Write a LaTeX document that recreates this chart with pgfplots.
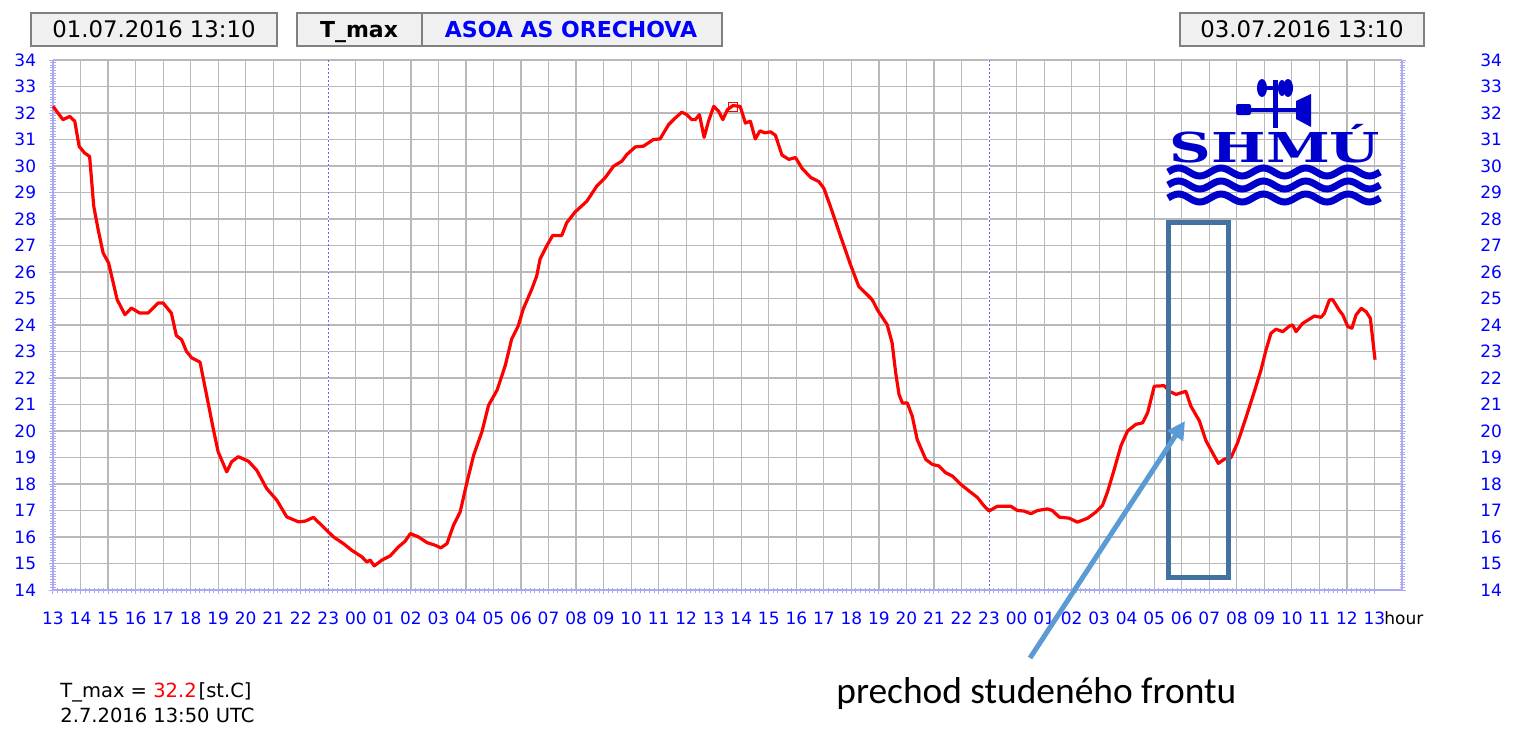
\documentclass[border=0pt]{standalone}
\usepackage{pgfplots}
\pgfplotsset{compat=1.18}
\usepackage{pgfplotstable}
\usepackage{fontspec}
\setmainfont{DejaVu Sans}
\newfontfamily\carlito{Carlito}
\newfontfamily\slab{DejaVu Serif}
\usetikzlibrary{arrows.meta}

\definecolor{lav}{RGB}{170,170,240}
\definecolor{gridgray}{RGB}{185,185,185}
\definecolor{boxfill}{RGB}{240,240,240}
\definecolor{boxline}{RGB}{128,128,128}
\definecolor{logoblue}{RGB}{0,0,204}
\definecolor{framebl}{RGB}{68,114,160}
\definecolor{arrowbl}{RGB}{91,155,213}
\definecolor{daybl}{RGB}{100,100,255}

% pixel position of the reference -> picture coordinate
\newcommand\pp[2]{({(#1)*0.5pt},{-(#2)*0.5pt})}
\newcommand\tickfont{\fontsize{8.5}{10}\selectfont}

% hours after 01.07.2016 13:00, T_max in deg C
\pgfplotstableread{
h T
0 32.25
0.36 31.75
0.61 31.87
0.79 31.69
0.95 30.74
1.15 30.49
1.33 30.36
1.48 28.48
1.64 27.6
1.82 26.72
2.02 26.34
2.33 24.96
2.61 24.39
2.85 24.64
3.15 24.45
3.45 24.45
3.82 24.83
4.0 24.83
4.3 24.45
4.48 23.6
4.67 23.45
4.85 23.0
5.04 22.76
5.34 22.6
5.58 21.35
5.82 20.09
6.0 19.21
6.31 18.46
6.49 18.84
6.73 19.03
7.10 18.86
7.40 18.52
7.76 17.83
8.13 17.39
8.49 16.76
8.92 16.57
9.16 16.6
9.46 16.74
9.82 16.38
10.19 16.0
10.55 15.75
10.85 15.5
11.22 15.25
11.4 15.06
11.52 15.13
11.67 14.91
11.95 15.13
12.25 15.29
12.55 15.63
12.79 15.84
12.98 16.13
13.28 16.0
13.58 15.79
13.88 15.69
14.09 15.59
14.31 15.75
14.55 16.45
14.79 16.95
15.04 18.08
15.28 19.09
15.58 19.97
15.82 20.97
16.13 21.54
16.43 22.48
16.66 23.47
16.9 23.97
17.08 24.6
17.39 25.35
17.57 25.85
17.69 26.48
17.93 26.98
18.15 27.38
18.48 27.38
18.66 27.86
18.96 28.26
19.39 28.67
19.75 29.24
20.05 29.55
20.36 29.99
20.66 30.18
20.84 30.43
21.15 30.72
21.45 30.75
21.81 31.0
22.05 31.02
22.36 31.56
22.6 31.81
22.84 32.03
23.02 31.94
23.2 31.75
23.33 31.75
23.48 31.94
23.65 31.08
23.81 31.69
24.0 32.25
24.18 32.06
24.33 31.75
24.5 32.13
24.7 32.28
24.96 32.25
25.15 31.62
25.33 31.69
25.51 31.02
25.68 31.33
25.85 31.25
26.06 31.29
26.24 31.16
26.48 30.41
26.73 30.25
26.97 30.32
27.21 29.91
27.52 29.57
27.82 29.41
28.0 29.16
28.24 28.47
28.61 27.34
28.97 26.27
29.27 25.45
29.52 25.2
29.76 24.95
29.94 24.58
30.3 24.01
30.48 23.32
30.61 22.19
30.73 21.38
30.85 21.06
31.03 21.06
31.21 20.56
31.39 19.68
31.7 18.93
31.94 18.74
32.18 18.68
32.42 18.43
32.67 18.3
32.97 17.99
33.27 17.74
33.58 17.49
33.82 17.17
34.0 16.98
34.3 17.16
34.79 17.16
35.03 17.0
35.27 16.98
35.52 16.88
35.76 17.0
36.12 17.06
36.3 17.0
36.55 16.75
36.91 16.71
37.21 16.56
37.58 16.71
37.88 16.94
38.12 17.19
38.3 17.69
38.55 18.56
38.79 19.44
39.03 20.0
39.33 20.25
39.58 20.31
39.76 20.69
40.0 21.69
40.36 21.71
40.55 21.5
40.79 21.38
40.97 21.44
41.15 21.5
41.33 20.94
41.64 20.38
41.88 19.63
42.18 19.06
42.33 18.78
42.55 18.94
42.79 19.0
43.03 19.56
43.33 20.5
43.64 21.5
43.88 22.31
44.06 23.06
44.24 23.69
44.42 23.84
44.67 23.75
44.91 23.96
45.03 24.0
45.15 23.75
45.39 24.06
45.82 24.34
46.06 24.29
46.18 24.44
46.36 24.94
46.48 24.96
46.73 24.54
46.85 24.38
47.03 23.94
47.18 23.88
47.33 24.38
47.52 24.63
47.7 24.5
47.85 24.25
48.02 22.69
}\tmaxdata

\begin{document}
\begin{tikzpicture}
\useasboundingbox (0,0) rectangle (758pt,-367pt);

\begin{axis}[
    at={(26.5pt,-295pt)}, anchor=south west,
    width=674.5pt, height=265pt, scale only axis,
    xmin=0, xmax=49, ymin=14, ymax=34,
    xtick={0,...,48},
    xticklabels={13,14,15,16,17,18,19,20,21,22,23,00,01,02,03,04,05,06,07,08,09,10,11,12,13,14,15,16,17,18,19,20,21,22,23,00,01,02,03,04,05,06,07,08,09,10,11,12,13},
    ytick={14,...,34},
    minor x tick num=5, minor y tick num=9,
    xtick pos=left, ytick pos=both, yticklabel pos=left,
    tick align=center,
    major tick length=3.5pt, minor tick length=2.5pt,
    tick style={draw=lav, line width=0.5pt},
    grid=major,
    major grid style={draw=gridgray, line width=0.6pt},
    axis line style={draw=none},
    ticklabel style={font=\tickfont, text=blue, inner sep=0pt},
    xticklabel style={yshift=-9pt},
    yticklabel style={anchor=east, xshift=-6.5pt},
    /pgf/number format/assume math mode=true,
    clip=false,
]
\draw[white, line width=0.8pt] (axis cs:10,14) -- (axis cs:10,34);
\draw[white, line width=0.8pt] (axis cs:34,14) -- (axis cs:34,34);
\draw[daybl, line width=0.5pt, dash pattern=on 1pt off 1pt] (axis cs:10,14) -- (axis cs:10,34);
\draw[daybl, line width=0.5pt, dash pattern=on 1pt off 1pt] (axis cs:34,14) -- (axis cs:34,34);
\draw[lav, line width=0.8pt] (rel axis cs:0,1) -- (rel axis cs:0,0) -- (rel axis cs:1,0) -- (rel axis cs:1,1);
\addplot[red, line width=1.6pt, line join=round, no markers] table[x=h, y=T] {\tmaxdata};
\addplot[red, only marks, mark=square, mark size=2.25pt, mark options={line width=0.5pt}] coordinates {(24.7,32.23)};
\end{axis}

% right-hand temperature labels
\begin{axis}[
    at={(26.5pt,-295pt)}, anchor=south west,
    width=674.5pt, height=265pt, scale only axis,
    xmin=0, xmax=49, ymin=14, ymax=34,
    hide x axis, axis y line*=right,
    y axis line style={draw=none},
    ytick={14,...,34}, major tick length=0pt,
    yticklabel style={font=\tickfont, text=blue, inner sep=0pt, anchor=west, xshift=39pt},
    /pgf/number format/assume math mode=true,
]
\end{axis}

\node[anchor=base west, inner sep=0pt, font=\tickfont] at \pp{1384}{624} {hour};

% header boxes
\draw[boxline, fill=boxfill, line width=0.75pt] \pp{31}{13} rectangle \pp{277}{46};
\draw[boxline, fill=boxfill, line width=0.75pt] \pp{297}{13} rectangle \pp{422}{46};
\draw[boxline, fill=boxfill, line width=0.75pt] \pp{422}{13} rectangle \pp{722}{46};
\draw[boxline, fill=boxfill, line width=0.75pt] \pp{1180}{13} rectangle \pp{1424}{46};
\node[anchor=base, inner sep=0pt, font=\fontsize{11.4}{13}\selectfont] at \pp{154}{37.5} {01.07.2016 13:10};
\node[anchor=base, inner sep=0pt, font=\bfseries\fontsize{11}{13}\selectfont] at \pp{359}{37.5} {T\_max};
\node[anchor=base, inner sep=0pt, font=\bfseries\fontsize{11}{13}\selectfont, text=blue] at \pp{571}{37.5} {ASOA AS ORECHOVA};
\node[anchor=base, inner sep=0pt, font=\fontsize{11.4}{13}\selectfont] at \pp{1302}{37.5} {03.07.2016 13:10};

% SHMU logo
\node[anchor=base, inner sep=0pt, text=logoblue, font=\slab\bfseries\fontsize{20.6}{22}\selectfont] at \pp{1275}{162} {\scalebox{1.4}[1]{SHMÚ}};
\foreach \yy in {172,185,198} {
  \draw[logoblue, line width=3.5pt] \pp{1168}{\yy} foreach \i in {1,...,5} { sin ++(5.3pt,2pt) cos ++(5.3pt,-2pt) sin ++(5.3pt,-2pt) cos ++(5.3pt,2pt)};
}
\fill[logoblue] \pp{1273}{80} rectangle \pp{1278}{128};
\fill[logoblue] \pp{1240}{107.5} rectangle \pp{1300}{112};
\fill[logoblue, rounded corners=1pt] \pp{1236}{104} rectangle \pp{1251}{115};
\fill[logoblue] \pp{1296}{101} -- \pp{1311}{94} -- \pp{1311}{127} -- \pp{1296}{119} -- cycle;
\fill[logoblue] \pp{1262}{86} rectangle \pp{1290}{90};
\fill[logoblue] \pp{1262}{88} ellipse (2.5pt and 4.5pt);
\fill[logoblue] \pp{1288}{88} ellipse (2.5pt and 4.5pt);
\fill[logoblue] \pp{1282}{88} ellipse (2pt and 4pt);

% cold front annotation
\draw[framebl, line width=2.5pt] \pp{1168}{222} rectangle \pp{1228}{577};
\draw[arrowbl, line width=2.5pt, -{Triangle[length=9pt,width=9pt]}] \pp{1030}{658} -- \pp{1185}{421};
\node[anchor=base west, inner sep=0pt, font=\carlito\fontsize{18.7}{22}\selectfont] at \pp{836}{703} {prechod studeného frontu};

% value of the maximum
\node[anchor=base west, inner sep=0pt, font=\fontsize{9.75}{12}\selectfont] at \pp{60}{697} {T\_max = \textcolor{red}{32.2}\kern1pt[st.C]};
\node[anchor=base west, inner sep=0pt, font=\fontsize{9.75}{12}\selectfont] at \pp{60}{722} {2.7.2016 13:50 UTC};
\end{tikzpicture}
\end{document}
